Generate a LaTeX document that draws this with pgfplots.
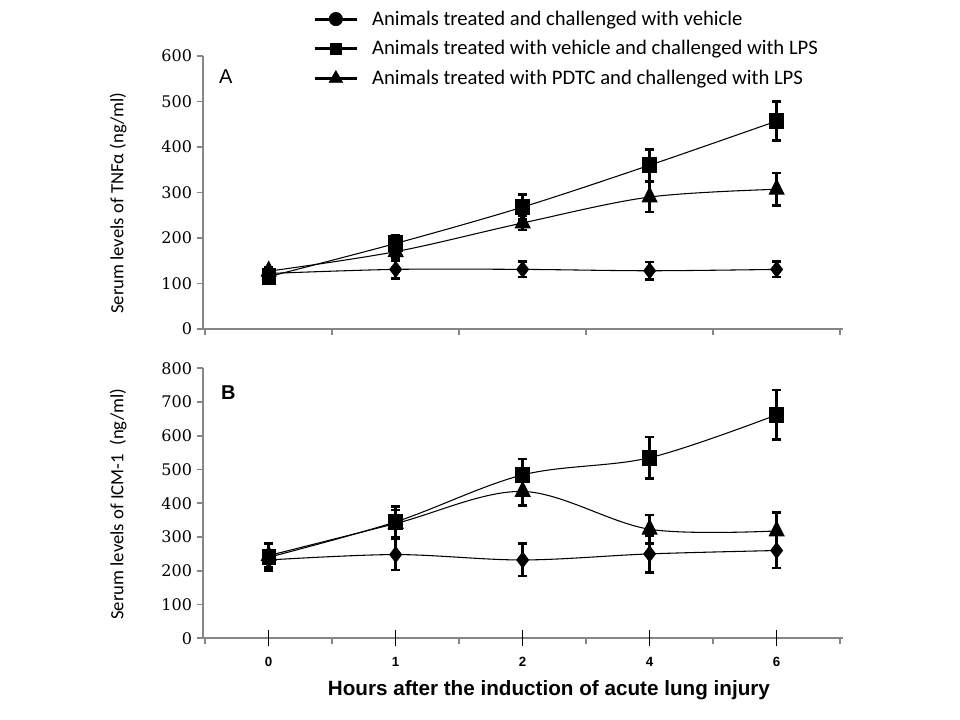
\documentclass[border=0pt]{standalone}
\usepackage{fontspec}
\usepackage{pgfplots}
\usepackage{pgfplotstable}
\pgfplotsset{compat=1.18}
\newfontfamily\carlito{Carlito}
\newfontfamily\serifnum{DejaVu Serif}
\newfontfamily\arial{Liberation Sans}
\definecolor{axgray}{HTML}{868686}

% TNF-alpha (panel A): x index (0..4 = hours 0,1,2,4,6), mean, error
\pgfplotstableread{
x y e
0 122 8
1 131 20
2 131 17
3 128 19
4 131 17
}\tnfVeh
\pgfplotstableread{
x y e
0 115 10
1 188 18
2 268 27
3 360 35
4 457 43
}\tnfLPS
\pgfplotstableread{
x y e
0 127 8
1 170 15
2 233 15
3 290 33
4 307 36
}\tnfPDTC
% ICM-1 (panel B)
\pgfplotstableread{
x y e
0 232 30
1 248 46
2 232 48
3 250 55
4 260 52
}\icmVeh
\pgfplotstableread{
x y e
0 240 40
1 345 45
2 484 47
3 535 62
4 662 73
}\icmLPS
\pgfplotstableread{
x y e
0 245 35
1 340 40
2 435 42
3 323 42
4 318 55
}\icmPDTC

\pgfplotsset{
  panel/.style={
    scale only axis, width=480pt,
    xmin=-0.52, xmax=4.52,
    axis x line=bottom, axis y line=left,
    axis line style={axgray, line width=1.5pt, -},
    xtick={-0.5,0.5,1.5,2.5,3.5,4.5}, xticklabels={},
    major tick length=4.5pt, tick align=outside,
    tick style={axgray, line width=1.2pt},
    yticklabel style={font=\serifnum\fontsize{12}{14}\selectfont, black},
    /pgf/number format/assume math mode=true,
    clip=false,
  },
  ser/.style={black, line width=0.8pt, smooth, tension=0.55,
    error bars/y dir=both, error bars/y explicit,
    error bars/error bar style={line width=1.9pt, black},
    error bars/error mark options={rotate=90, line width=1.9pt, black, mark size=3.4pt}},
  mveh/.style={mark=diamond*, mark size=5.8pt, mark options={solid, fill=black}},
  mlps/.style={mark=square*, mark size=5pt, mark options={solid, fill=black, yscale=1.15}},
  mpdtc/.style={mark=triangle*, mark size=6.3pt, mark options={solid, fill=black, yscale=1.15}},
  legimg/.style={black, line width=2.3pt, mark options={solid, fill=black, line width=0.5pt}},
}

\begin{document}
\begin{tikzpicture}
\useasboundingbox (0,0) rectangle (720pt,540pt);

% Panel A
\begin{axis}[panel, at={(152pt,293.25pt)}, anchor=south west,
  height=204.75pt, ymin=0, ymax=600, ytick={0,100,...,600},
  ylabel={Serum levels of TNFα (ng/ml)},
  ylabel style={font=\carlito\fontsize{14}{16}\selectfont, at={(axis description cs:-0.132,0.461)}, anchor=center},
  legend image code/.code={\draw[#1, mark repeat=2, mark phase=2] plot coordinates {(0pt,0pt) (16pt,0pt) (32pt,0pt)};},
  legend style={at={(axis description cs:0.172,1.176)}, anchor=north west, draw=none, fill=none,
    font=\carlito\fontsize{15.5}{18}\selectfont, row sep=6pt, inner sep=0pt,
    /tikz/every odd column/.append style={column sep=8pt}},
  legend cell align=left,
]
\addlegendimage{legimg, mark=*, mark size=5pt}
\addlegendimage{legimg, mark=square*, mark size=4.3pt}
\addlegendimage{legimg, mark=triangle*, mark size=5.8pt}
\legend{Animals treated and challenged with vehicle,
        Animals treated with vehicle and challenged with LPS,
        Animals treated with PDTC and challenged with LPS}
\addplot[ser, mveh, forget plot] table[x=x, y=y, y error=e] {\tnfVeh};
\addplot[ser, mpdtc, forget plot] table[x=x, y=y, y error=e] {\tnfPDTC};
\addplot[ser, mlps, forget plot] table[x=x, y=y, y error=e] {\tnfLPS};
\node[font=\arial\fontsize{15}{17}\selectfont] at (axis description cs:0.036,0.925) {A};
\end{axis}

% Panel B
\begin{axis}[panel, at={(152pt,61.3pt)}, anchor=south west,
  height=202.5pt, ymin=0, ymax=800, ytick={0,100,...,800},
  ylabel={Serum levels of ICM-1\ \ (ng/ml)},
  ylabel style={font=\carlito\fontsize{14}{16}\selectfont, at={(axis description cs:-0.132,0.497)}, anchor=center},
  extra x ticks={0,1,2,3,4}, extra x tick labels={0,1,2,4,6},
  extra x tick style={tick align=center, major tick length=12pt,
    major tick style={black, line width=0.8pt},
    xticklabel style={font=\arial\bfseries\fontsize{10}{12}\selectfont, black, yshift=-4.5pt}},
  xlabel={Hours after the induction of acute lung injury},
  xlabel style={font=\arial\bfseries\fontsize{15.5}{17}\selectfont, at={(axis description cs:0.541,-0.193)}, anchor=center},
]
\addplot[ser, mveh] table[x=x, y=y, y error=e] {\icmVeh};
\addplot[ser, mpdtc] table[x=x, y=y, y error=e] {\icmPDTC};
\addplot[ser, mlps] table[x=x, y=y, y error=e] {\icmLPS};
\node[font=\arial\bfseries\fontsize{15}{17}\selectfont] at (axis description cs:0.04,0.909) {B};
\end{axis}
\end{tikzpicture}
\end{document}
